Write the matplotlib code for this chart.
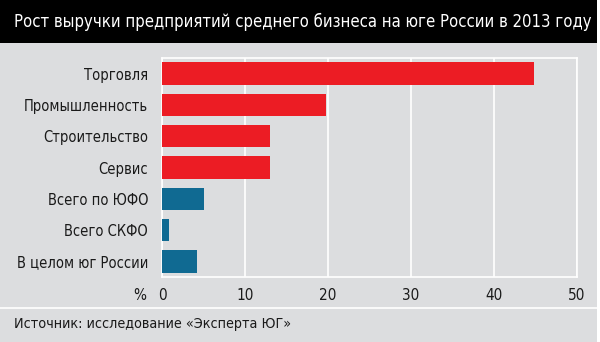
import matplotlib
matplotlib.use("Agg")
import matplotlib.pyplot as plt
from matplotlib.patches import Rectangle
from matplotlib.lines import Line2D

categories = ["Торговля", "Промышленность", "Строительство", "Сервис",
              "Всего по ЮФО", "Всего СКФО", "В целом юг России"]
growth = [44.8, 19.7, 13.0, 13.0, 5.1, 0.8, 4.2]
is_total = [False, False, False, False, True, True, True]
xticks = [0, 10, 20, 30, 40, 50]

title = "Рост выручки предприятий среднего бизнеса на юге России в 2013 году"
source = "Источник: исследование «Эксперта ЮГ»"

red = "#ec1c24"
blue = "#106a92"
bg = "#dcdddf"
ink = "#1a1a1a"

plt.rcParams['font.family'] = ['DejaVu Sans']
plt.rcParams['font.stretch'] = 'condensed'

fig = plt.figure(figsize=(6.0, 3.42), dpi=100)
fig.patch.set_facecolor("white")
W, H = 600.0, 342.0

# grey panel and black title strip
fig.add_artist(Rectangle((0, 0), 597 / W, 1, transform=fig.transFigure,
                         facecolor=bg, edgecolor="none", zorder=0))
fig.add_artist(Rectangle((0, 1 - 43 / H), 597 / W, 43 / H, transform=fig.transFigure,
                         facecolor="black", edgecolor="none", zorder=1))
fig.text(14 / W, 1 - 22 / H, title, color="white", fontsize=12,
         ha="left", va="center")

# separator above the source line
fig.add_artist(Line2D([0, 597 / W], [1 - 308 / H, 1 - 308 / H], transform=fig.transFigure,
                      color="white", lw=1.2))
fig.text(14 / W, 1 - 324 / H, source, color=ink, fontsize=10.3,
         ha="left", va="center")

ax = fig.add_axes([162 / W, 1 - 277 / H, 415 / W, 219 / H])
ax.set_facecolor(bg)
ypos = list(range(len(categories)))
colors = [blue if t else red for t in is_total]
ax.barh(ypos, growth, height=0.72, color=colors, zorder=3)
ax.set_ylim(len(categories) - 0.5, -0.5)
ax.set_xlim(0, 50)
ax.set_xticks(xticks)
ax.set_xticklabels([str(t) for t in xticks])
ax.set_yticks(ypos)
ax.set_yticklabels(categories)
ax.grid(axis="x", color="white", lw=1.2, zorder=1)
for s in ax.spines.values():
    s.set_color("white")
    s.set_linewidth(1.2)
ax.tick_params(axis="y", length=0, labelsize=10.5, colors=ink, pad=10)
ax.tick_params(axis="x", length=0, labelsize=11, colors=ink, pad=8)
fig.text(146 / W, 1 - 295 / H, "%", color=ink, fontsize=11,
         ha="right", va="center")

fig.savefig("out.png", dpi=100)
